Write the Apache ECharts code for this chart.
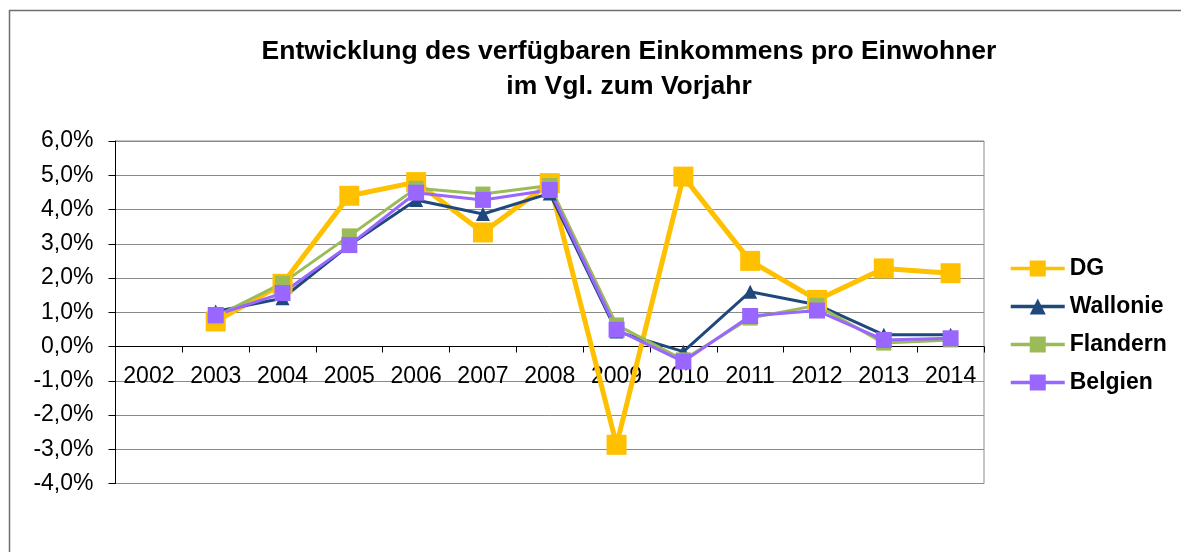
<!DOCTYPE html>
<html>
<head>
<meta charset="utf-8">
<script src="https://cdn.jsdelivr.net/npm/echarts@6/dist/echarts.min.js"></script>
<style>
  html, body { margin: 0; padding: 0; background: #fff; }
  #ChartDom { width: 1181px; height: 552px; }
</style>
</head>
<body>
<div id="ChartDom"></div>
<script>
const years = ["2002", "2003", "2004", "2005", "2006", "2007", "2008", "2009", "2010", "2011", "2012", "2013", "2014"]
const dg = [null, 0.73, 1.83, 4.4, 4.8, 3.33, 4.77, -2.87, 4.96, 2.5, 1.36, 2.28, 2.14]
const wallonie = [null, 1.02, 1.41, 2.96, 4.28, 3.87, 4.47, 0.44, -0.15, 1.6, 1.22, 0.34, 0.34]
const flandern = [null, 0.87, 1.85, 3.23, 4.62, 4.45, 4.7, 0.63, -0.39, 0.83, 1.2, 0.1, 0.19]
const belgien = [null, 0.92, 1.56, 2.96, 4.49, 4.28, 4.57, 0.49, -0.44, 0.89, 1.05, 0.19, 0.24]
const yMin = -4
const yMax = 6

const font = "Liberation Sans, Arial, sans-serif"
const gridTop = 141
const gridBottom = 68.5
const gridHeight = 552 - gridTop - gridBottom
// move the category axis (line, ticks, labels) up to the zero line
const zeroOffset = -gridHeight * (0 - yMin) / (yMax - yMin)

function lineSeries(name, data, color, symbol, size, width) {
  return {
    name: name,
    type: "line",
    data: data,
    symbol: symbol,
    symbolSize: size,
    color: color,
    lineStyle: { color: color, width: width },
    itemStyle: { color: color },
    animation: false,
  }
}

const chartDom = document.getElementById("ChartDom")
const myChart = echarts.init(chartDom)
const option = {
  backgroundColor: "#ffffff",
  title: {
    text: "Entwicklung des verfügbaren Einkommens pro Einwohner\nim Vgl. zum Vorjahr",
    left: 629,
    top: 34,
    padding: 0,
    textAlign: "center",
    textStyle: {
      fontFamily: font,
      fontSize: 26.5,
      fontWeight: "bold",
      color: "#000",
      lineHeight: 35,
    },
  },
  graphic: [
    {
      type: "rect",
      shape: { x: 9.5, y: 10.5, width: 1300, height: 700 },
      style: { fill: null, stroke: "#6e6e6e", lineWidth: 1.5 },
      silent: true,
      z: -1,
    },
  ],
  legend: {
    orient: "vertical",
    left: 1004,
    top: 252,
    itemWidth: 54,
    itemHeight: 20,
    itemGap: 15,
    lineStyle: { width: 3.5 },
    textStyle: { fontFamily: font, fontSize: 23, fontWeight: "bold", color: "#000" },
    data: ["DG", "Wallonie", "Flandern", "Belgien"],
  },
  grid: {
    left: 115.5,
    top: gridTop,
    right: 197,
    bottom: gridBottom,
    show: true,
    borderColor: "#8a8a8a",
    borderWidth: 1,
  },
  xAxis: {
    type: "category",
    data: years,
    offset: zeroOffset,
    axisLine: { onZero: false, lineStyle: { color: "#000", width: 1 } },
    axisTick: { show: true, length: 6, lineStyle: { color: "#000" } },
    axisLabel: { interval: 0, margin: 19, fontFamily: font, fontSize: 23, color: "#000" },
    splitLine: { show: false },
  },
  yAxis: {
    type: "value",
    min: yMin,
    max: yMax,
    interval: 1,
    axisLine: { show: true, lineStyle: { color: "#000", width: 1 } },
    axisTick: { show: true, length: 7, lineStyle: { color: "#000" } },
    axisLabel: {
      margin: 22,
      fontFamily: font,
      fontSize: 23,
      color: "#000",
      formatter: (v) => v.toFixed(1).replace(".", ",") + "%",
    },
    splitLine: { show: true, lineStyle: { color: "#8a8a8a", width: 1 } },
  },
  series: [
    lineSeries("DG", dg, "#FFC000", "rect", 20, 5),
    lineSeries("Wallonie", wallonie, "#1F497D", "triangle", 14, 3),
    lineSeries("Flandern", flandern, "#9BBB59", "rect", 15, 3),
    lineSeries("Belgien", belgien, "#9966FF", "rect", 16, 3),
  ],
}
myChart.setOption(option)
</script>
</body>
</html>
